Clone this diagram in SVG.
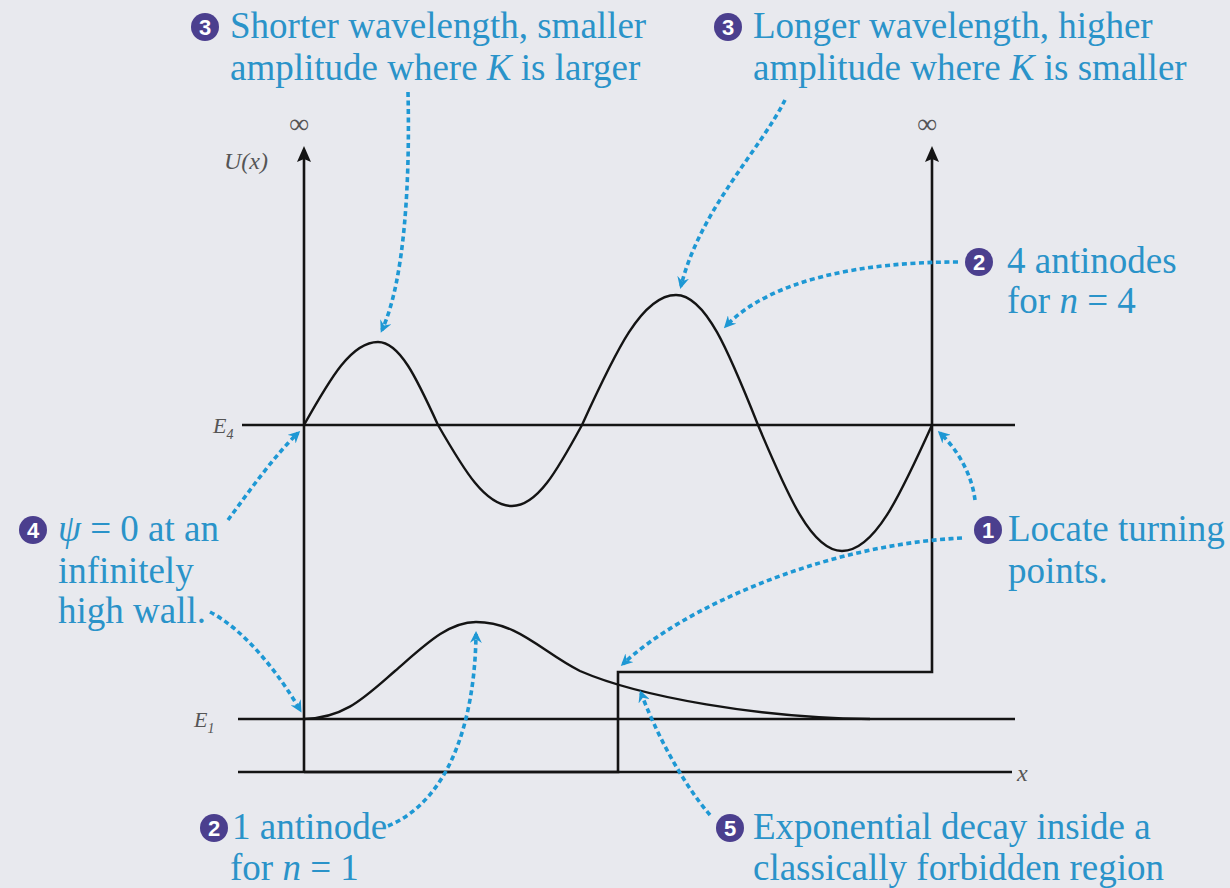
<svg xmlns="http://www.w3.org/2000/svg" width="1230" height="888" viewBox="0 0 1230 888">
<style>
.bg{fill:#e8e9ee}
.ax{fill:none;stroke:#141414;stroke-width:2.6}
.wave{fill:none;stroke:#141414;stroke-width:2.4}
.lbl{font-family:"Liberation Serif","Times New Roman",Times,serif;font-size:37px;fill:#2a93c9}
.it{font-style:italic}
.badge circle{fill:#4b3f8e}
.badge text{font-family:"Liberation Sans",Arial,sans-serif;font-weight:bold;font-size:22px;fill:#fff;text-anchor:middle}
.ptr{fill:none;stroke:#1e98d4;stroke-width:3.6;stroke-dasharray:5 3.5}
.gl{font-family:"Liberation Serif","Times New Roman",serif;fill:#555;font-style:italic}
</style>
<defs>
<marker id="ah" viewBox="0 0 12 12" refX="9" refY="6" markerWidth="12" markerHeight="12" markerUnits="userSpaceOnUse" orient="auto">
<path d="M0,0 L12,6 L0,12 L4,6 Z" fill="#1e98d4"/>
</marker>
</defs>
<rect class="bg" x="0" y="0" width="1230" height="888"/>

<g id="axes">
<line class="ax" x1="238" y1="772" x2="1012" y2="772"/>
<line class="ax" x1="242" y1="425" x2="1015" y2="425" stroke-width="2"/>
<line class="ax" x1="238" y1="719" x2="1015" y2="719" stroke-width="2"/>
<path class="ax" d="M304,772 L304,150"/>
<path d="M304,146 L297,162 L304,159 L311,162 Z" fill="#141414"/>
<path class="ax" d="M304,772 L618,772 L618,672 L932,672 L932,150"/>
<path d="M932,146 L925,162 L932,159 L939,162 Z" fill="#141414"/>
<text class="gl" x="289" y="133" font-size="28" font-style="normal" font-weight="bold" fill="#222">∞</text>
<text class="gl" x="917" y="133" font-size="28" font-style="normal" font-weight="bold" fill="#222">∞</text>
<text class="gl" x="224" y="169" font-size="24">U(x)</text>
<text class="gl" x="213" y="433" font-size="22">E<tspan font-size="14" dy="6">4</tspan></text>
<text class="gl" x="194" y="727" font-size="22">E<tspan font-size="14" dy="6">1</tspan></text>
<text class="gl" x="1017" y="781" font-size="24" fill="#333">x</text>
</g>

<g id="psi4">
<path class="wave" d="M304,425 C330.6,377.7 351.4,342 378,342 C399.6,342 416.4,377.7 438,425 C464.6,471.2 485.4,506 512,506 C537.2,506 556.8,471.2 582,425 C615.8,350.9 642.2,295 676,295 C705.5,295 728.5,350.9 758,425 C788.2,496.8 811.8,551 842,551 C874.4,551 899.6,496.8 932,425"/>
</g>
<g id="psi1">
<path class="wave" d="M304,719 C345,718 365,697 395,671 C425,645 448,622 476,622 C518,622 542,652 580,671 C640,697 760,718 870,719"/>
</g>

<g id="connectors">
<path class="ptr" marker-end="url(#ah)" d="M408,92 C410,180 405,280 382,330"/>
<path class="ptr" marker-end="url(#ah)" d="M785,100 C760,150 700,210 681,286"/>
<path class="ptr" marker-end="url(#ah)" d="M958,262 C860,262 770,280 726,326"/>
<path class="ptr" marker-end="url(#ah)" d="M975,500 C972,475 958,450 940,433"/>
<path class="ptr" marker-end="url(#ah)" d="M962,538 C820,545 680,610 623,664"/>
<path class="ptr" marker-end="url(#ah)" d="M228,520 C250,490 275,455 298,433"/>
<path class="ptr" marker-end="url(#ah)" d="M210,612 C245,630 280,675 300,710"/>
<path class="ptr" marker-end="url(#ah)" d="M388,826 C450,800 475,720 476,634"/>
<path class="ptr" marker-end="url(#ah)" d="M710,815 C680,780 655,730 641,693"/>
</g>

<g id="note-shorter">
<g class="badge"><circle cx="205" cy="27" r="14"/><text x="205" y="35">3</text></g>
<text class="lbl" x="230" y="38">Shorter wavelength, smaller</text>
<text class="lbl" x="230" y="80">amplitude where <tspan class="it">K</tspan> is larger</text>
</g>
<g id="note-longer">
<g class="badge"><circle cx="728" cy="27" r="14"/><text x="728" y="35">3</text></g>
<text class="lbl" x="753" y="38">Longer wavelength, higher</text>
<text class="lbl" x="753" y="80">amplitude where <tspan class="it">K</tspan> is smaller</text>
</g>
<g id="note-4antinodes">
<g class="badge"><circle cx="979" cy="262" r="14"/><text x="979" y="270">2</text></g>
<text class="lbl" x="1007" y="273">4 antinodes</text>
<text class="lbl" x="1007" y="313">for <tspan class="it">n</tspan> = 4</text>
</g>
<g id="note-turning">
<g class="badge"><circle cx="988" cy="530" r="14"/><text x="988" y="538">1</text></g>
<text class="lbl" x="1008" y="541">Locate turning</text>
<text class="lbl" x="1008" y="583">points.</text>
</g>
<g id="note-wall">
<g class="badge"><circle cx="33" cy="530" r="14"/><text x="33" y="538">4</text></g>
<text class="lbl" x="58" y="541"><tspan class="it">ψ</tspan> = 0 at an</text>
<text class="lbl" x="58" y="583">infinitely</text>
<text class="lbl" x="58" y="623">high wall.</text>
</g>
<g id="note-1antinode">
<g class="badge"><circle cx="214" cy="828" r="14"/><text x="214" y="836">2</text></g>
<text class="lbl" x="232" y="839">1 antinode</text>
<text class="lbl" x="230" y="880">for <tspan class="it">n</tspan> = 1</text>
</g>
<g id="note-decay">
<g class="badge"><circle cx="730" cy="828" r="14"/><text x="730" y="836">5</text></g>
<text class="lbl" x="753" y="839">Exponential decay inside a</text>
<text class="lbl" x="753" y="880">classically forbidden region</text>
</g>
</svg>
